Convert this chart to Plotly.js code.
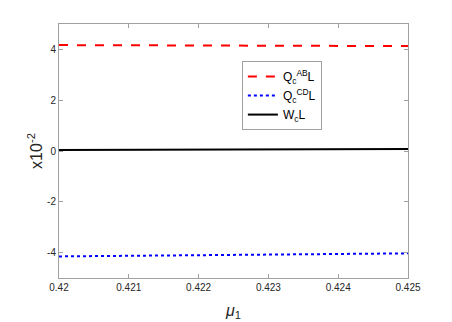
<!DOCTYPE html>
<html>
<head>
<meta charset="utf-8">
<script src="https://cdn.plot.ly/plotly-3.0.1.min.js"></script>
<style>
  html, body { margin: 0; padding: 0; background: #fff; }
  #plot { width: 452px; height: 322px; }
</style>
</head>
<body>
<div id="plot"></div>
<script>
// mu_1 values and the three series (x10^-2)
const mu1 = [0.420, 0.421, 0.422, 0.423, 0.424, 0.425];
const qAB = [4.17, 4.16, 4.15, 4.15, 4.14, 4.13];
const qCD = [-4.15, -4.13, -4.10, -4.08, -4.06, -4.03];
const wc = [0.04, 0.05, 0.06, 0.06, 0.07, 0.08];

const seriesNames = ['Q<sub>c</sub><sup>AB</sup>L', 'Q<sub>c</sub><sup>CD</sup>L', 'W<sub>c</sub>L'];
const xTicks = [0.42, 0.421, 0.422, 0.423, 0.424, 0.425];
const yTicks = [-4, -2, 0, 2, 4];

const traces = [
    {
        x: mu1, y: qAB, name: seriesNames[0],
        mode: 'lines', type: 'scatter',
        line: { color: '#ff0000', width: 2, dash: 'dash' }
    },
    {
        x: mu1, y: qCD, name: seriesNames[1],
        mode: 'lines', type: 'scatter',
        line: { color: '#0000ff', width: 2, dash: 'dot' }
    },
    {
        x: mu1, y: wc, name: seriesNames[2],
        mode: 'lines', type: 'scatter',
        line: { color: '#000000', width: 2 }
    }
];

const axisStyle = {
    showgrid: false,
    zeroline: false,
    showline: true,
    mirror: 'ticks',
    ticks: 'inside',
    ticklen: 4,
    tickcolor: '#a0a0a0',
    linecolor: '#a0a0a0',
    linewidth: 1,
    tickfont: { family: 'Liberation Sans, Arial, sans-serif', size: 10, color: '#262626' }
};

const layout = {
    width: 452,
    height: 322,
    margin: { l: 59, r: 44, t: 24, b: 44 },
    paper_bgcolor: '#ffffff',
    plot_bgcolor: '#ffffff',
    showlegend: true,
    legend: {
        x: 0.524, y: 0.854, xanchor: 'left', yanchor: 'top',
        bgcolor: '#ffffff',
        bordercolor: '#a0a0a0', borderwidth: 1,
        font: { family: 'Liberation Sans, Arial, sans-serif', size: 12, color: '#000' },
        tracegroupgap: 0,
        itemwidth: 30
    },
    xaxis: Object.assign({}, axisStyle, {
        range: [0.42, 0.425],
        tickvals: xTicks,
        ticktext: xTicks.map(v => String(v)),
        title: {
            text: '<i>μ</i><sub>1</sub>',
            font: { family: 'Liberation Sans, Arial, sans-serif', size: 16, color: '#262626' },
            standoff: 12
        }
    }),
    yaxis: Object.assign({}, axisStyle, {
        range: [-5, 5],
        tickvals: yTicks,
        ticktext: yTicks.map(v => String(v)),
        title: {
            text: 'x10<sup>-2</sup>',
            font: { family: 'Liberation Sans, Arial, sans-serif', size: 16, color: '#262626' },
            standoff: 0
        }
    })
};

Plotly.newPlot('plot', traces, layout, { displayModeBar: false, staticPlot: true });
</script>
</body>
</html>
